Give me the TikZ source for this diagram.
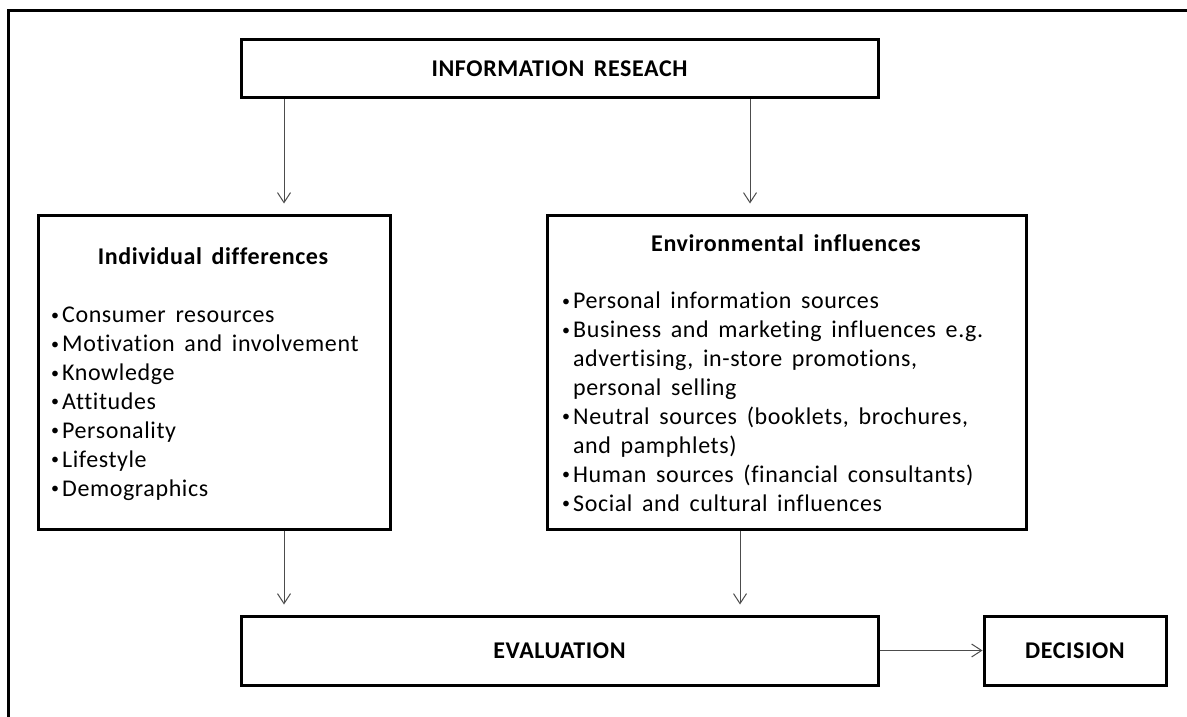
\documentclass[tikz,border=0pt]{standalone}
\usepackage{fontspec}
\setmainfont{Carlito}[Ligatures={NoCommon},LetterSpace=2.5,WordSpace=1.6]
\usetikzlibrary{arrows.meta}
\newcommand\bul{\raisebox{2.5pt}{\fontsize{16}{16}\selectfont •}\hspace{3pt}}
\newcommand\ind{\phantom{\bul}}
\begin{document}
\begin{tikzpicture}[x=1pt,y=-1pt,
 box/.style={draw=black,line width=3pt,inner sep=0pt},
 arr/.style={draw=black!70,line width=1pt,-{Straight Barb[length=10pt,width=13pt,line width=1pt]}},
 hd/.style={font=\fontsize{24}{29}\selectfont\bfseries,inner sep=0pt},
 lst/.style={font=\fontsize{24}{28.9}\selectfont,align=left,inner sep=0pt,anchor=north west}]
\useasboundingbox (0,0) rectangle (1187,717);
\begin{scope}
\clip (0,0) rectangle (1187,717);
\draw[line width=3pt] (8,740) -- (8,11) -- (1200,11);
\end{scope}
\node[box,minimum width=637pt,minimum height=58pt,hd] (info) at (559.5,69) {INFORMATION RESEACH};
\node[box,minimum width=352pt,minimum height=314pt] (ind) at (214,372) {};
\node[box,minimum width=479pt,minimum height=314pt] (env) at (787,372) {};
\node[box,minimum width=637pt,minimum height=69pt,hd] (eval) at (559.5,650.5) {EVALUATION};
\node[box,minimum width=182pt,minimum height=69pt,hd] (dec) at (1075,650.5) {DECISION};
\node[hd] (indh) at (213,256) {Individual differences};
\node[hd] (envh) at (786,243) {Environmental influences};
\node[lst] (indl) at (51,307) {\bul Consumer resources\\\bul Motivation and involvement\\\bul Knowledge\\\bul Attitudes\\\bul Personality\\\bul Lifestyle\\\bul Demographics};
\node[lst] (envl) at (562,292) {\bul Personal information sources\\\bul Business and marketing influences e.g.\\\ind advertising, in-store promotions,\\\ind personal selling\\\bul Neutral sources (booklets, brochures,\\\ind and pamphlets)\\\bul Human sources (financial consultants)\\\bul Social and cultural influences};
\coordinate (xa) at (284,0);
\coordinate (xb) at (750,0);
\coordinate (xd) at (740,0);
\draw[arr,shorten >=10pt] (xa |- info.south) -- (xa |- ind.north);
\draw[arr,shorten >=10pt] (xb |- info.south) -- (xb |- env.north);
\draw[arr,shorten >=10pt] (xa |- ind.south) -- (xa |- eval.north);
\draw[arr,shorten >=10pt] (xd |- env.south) -- (xd |- eval.north);
\draw[arr] (eval.east) -- (dec.west);
\end{tikzpicture}
\end{document}
